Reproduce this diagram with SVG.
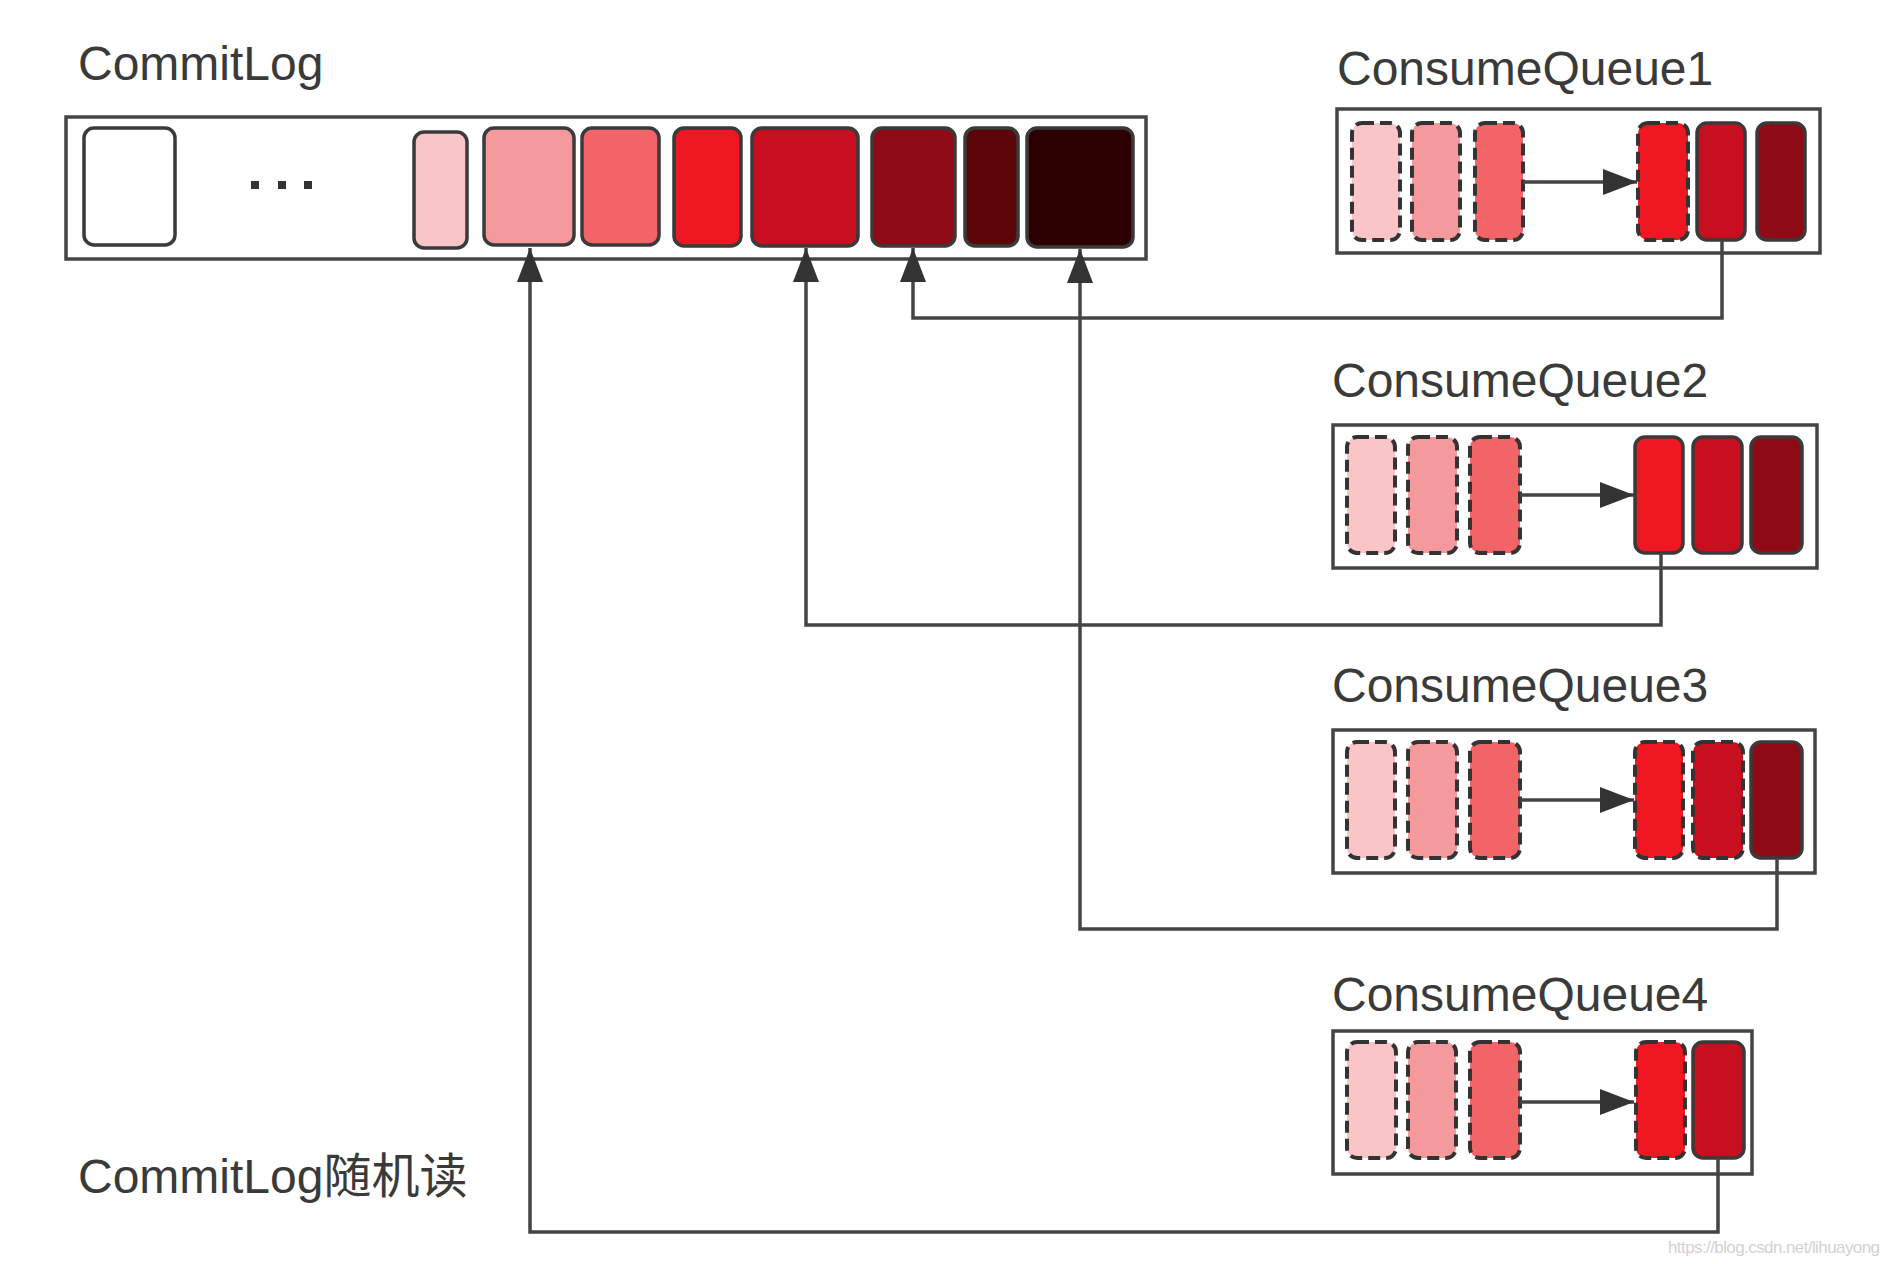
<svg xmlns="http://www.w3.org/2000/svg" width="1890" height="1264" viewBox="0 0 1890 1264">
<defs>
<marker id="ah" markerUnits="userSpaceOnUse" markerWidth="36" markerHeight="26" refX="34" refY="13" orient="auto"><path d="M0,0 L34,13 L0,26 Z" fill="#333"/></marker>
</defs>
<style>
.t{font-family:"Liberation Sans",Arial,"Noto Sans CJK SC",sans-serif;font-size:48px;fill:#3a3a3a}
.wm{font-family:"Liberation Sans",Arial,sans-serif;font-size:17px;fill:#d2d2d2}
.box{fill:#fff;stroke:#444;stroke-width:3.5}
.c{stroke:#3a3a3a;stroke-width:3.5}
.d{stroke:#333;stroke-width:4;stroke-dasharray:12 6}
.c0{fill:#fff}.c1{fill:#f9c5c7}.c2{fill:#f59a9c}.c3{fill:#f26468}.c4{fill:#ee1722}.c5{fill:#c80f1f}.c6{fill:#8e0a14}.c7{fill:#5c0509}.c8{fill:#2c0003}
.ln{fill:none;stroke:#444;stroke-width:3.5}
</style>
<rect width="1890" height="1264" fill="#fff"/>

<g id="commitlog">
<text class="t" x="78" y="80">CommitLog</text>
<rect class="box" x="66" y="117" width="1080" height="142"/>
<rect class="c c0" x="84" y="128" width="91" height="117" rx="10"/>
<rect x="251" y="181" width="8" height="8" fill="#333"/>
<rect x="278" y="181" width="8" height="8" fill="#333"/>
<rect x="304" y="181" width="8" height="8" fill="#333"/>
<rect class="c c1" x="414" y="132" width="53" height="116" rx="10"/>
<rect class="c c2" x="484" y="128" width="90" height="117" rx="10"/>
<rect class="c c3" x="582" y="128" width="77" height="117" rx="10"/>
<rect class="c c4" x="674" y="128" width="67" height="118" rx="10"/>
<rect class="c c5" x="752" y="128" width="106" height="118" rx="10"/>
<rect class="c c6" x="872" y="128" width="83" height="118" rx="10"/>
<rect class="c c7" x="965" y="128" width="53" height="118" rx="10"/>
<rect class="c c8" x="1027" y="128" width="106" height="119" rx="10"/>
</g>

<g id="cq1">
<text class="t" x="1337" y="85">ConsumeQueue1</text>
<rect class="box" x="1337" y="109" width="483" height="144"/>
<rect class="d c1" x="1352" y="123" width="48" height="117" rx="10"/>
<rect class="d c2" x="1412" y="123" width="48" height="117" rx="10"/>
<rect class="d c3" x="1475" y="123" width="48" height="117" rx="10"/>
<rect class="d c4" x="1638" y="123" width="50" height="117" rx="10"/>
<rect class="c c5" x="1697" y="123" width="48" height="117" rx="10"/>
<rect class="c c6" x="1757" y="123" width="48" height="117" rx="10"/>
<line class="ln" x1="1523" y1="182" x2="1637" y2="182" marker-end="url(#ah)"/>
</g>

<g id="cq2">
<text class="t" x="1332" y="397">ConsumeQueue2</text>
<rect class="box" x="1333" y="425" width="484" height="143"/>
<rect class="d c1" x="1347" y="437" width="48" height="116" rx="10"/>
<rect class="d c2" x="1408" y="437" width="49" height="116" rx="10"/>
<rect class="d c3" x="1470" y="437" width="50" height="116" rx="10"/>
<rect class="c c4" x="1635" y="437" width="48" height="116" rx="10"/>
<rect class="c c5" x="1693" y="437" width="49" height="116" rx="10"/>
<rect class="c c6" x="1751" y="437" width="51" height="116" rx="10"/>
<line class="ln" x1="1520" y1="495" x2="1634" y2="495" marker-end="url(#ah)"/>
</g>

<g id="cq3">
<text class="t" x="1332" y="702">ConsumeQueue3</text>
<rect class="box" x="1333" y="730" width="482" height="143"/>
<rect class="d c1" x="1347" y="742" width="48" height="116" rx="10"/>
<rect class="d c2" x="1408" y="742" width="49" height="116" rx="10"/>
<rect class="d c3" x="1470" y="742" width="50" height="116" rx="10"/>
<rect class="d c4" x="1635" y="742" width="48" height="116" rx="10"/>
<rect class="d c5" x="1693" y="742" width="50" height="116" rx="10"/>
<rect class="c c6" x="1751" y="742" width="51" height="116" rx="10"/>
<line class="ln" x1="1520" y1="800" x2="1634" y2="800" marker-end="url(#ah)"/>
</g>

<g id="cq4">
<text class="t" x="1332" y="1011">ConsumeQueue4</text>
<rect class="box" x="1333" y="1031" width="419" height="143"/>
<rect class="d c1" x="1347" y="1042" width="49" height="116" rx="10"/>
<rect class="d c2" x="1408" y="1042" width="48" height="116" rx="10"/>
<rect class="d c3" x="1470" y="1042" width="50" height="116" rx="10"/>
<rect class="d c4" x="1636" y="1042" width="49" height="116" rx="10"/>
<rect class="c c5" x="1693" y="1042" width="51" height="116" rx="10"/>
<line class="ln" x1="1520" y1="1102" x2="1634" y2="1102" marker-end="url(#ah)"/>
</g>

<g id="connectors">
<path class="ln" d="M1722,240 V318 H913 V248" marker-end="url(#ah)"/>
<path class="ln" d="M1661,553 V625 H806 V248" marker-end="url(#ah)"/>
<path class="ln" d="M1777,858 V929 H1080 V249" marker-end="url(#ah)"/>
<path class="ln" d="M1718,1158 V1232 H530 V248" marker-end="url(#ah)"/>
</g>

<g id="labels">
<text class="t" x="78" y="1193">CommitLog随机读</text>
<text class="wm" x="1668" y="1253" textLength="212">https://blog.csdn.net/lihuayong</text>
</g>
</svg>
